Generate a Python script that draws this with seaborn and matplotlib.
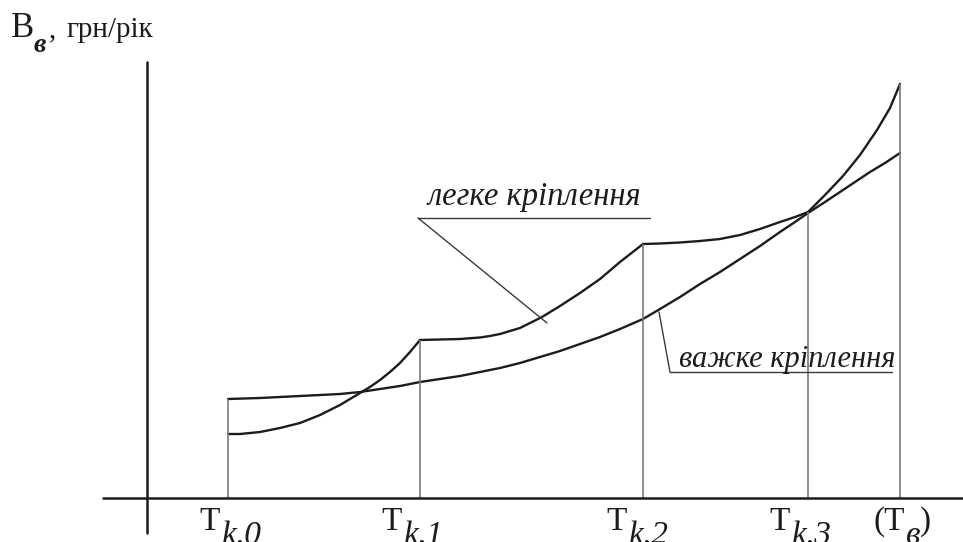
import numpy as np
import pandas as pd
import matplotlib
matplotlib.use("Agg")
import matplotlib.pyplot as plt
import seaborn as sns

# ------------------------------------------------------------
# Données lues sur le schéma (origine = croisement des axes)
# ------------------------------------------------------------

t_names = ["k,0", "k,1", "k,2", "k,3", "в"]
t_pos = [81, 273, 496, 661, 753]

# легке кріплення : trois tronçons entre les remplacements
light1_x = [81, 93, 113, 133, 153, 173, 193, 203, 213, 223, 233, 243, 253, 263, 273]
light1_y = [64, 64, 66, 70, 75, 83, 93, 99, 105, 111, 118, 126, 135, 146, 158]

light2_x = [273, 293, 313, 333, 343, 353, 363, 373, 383, 395, 413, 433, 453, 473, 496]
light2_y = [158, 158.5, 159, 160.5, 162, 164, 167, 170, 175, 181, 192, 205, 219, 236, 254]

light3_x = [496, 513, 533, 553, 573, 593, 613, 633, 648, 661, 678, 696, 713, 730, 743, 753]
light3_y = [254, 254.5, 255.5, 257, 259, 263, 269, 276, 281, 286, 303, 322, 343, 368, 390, 414]

# важке кріплення
heavy_x = [81, 113, 153, 193, 213, 233, 253, 273, 293, 313, 333, 353, 373, 393, 413, 433, 453,
           473, 496, 513, 533, 553, 573, 593, 613, 633, 648, 661, 678, 693, 708, 723, 738, 753]
heavy_y = [99, 100, 102, 104, 106, 109, 112, 116, 119, 122, 126, 130, 135, 141, 147, 154, 161,
           169, 179, 189, 201, 214, 226, 239, 252, 266, 276, 285, 296, 306, 316, 326, 335, 345]

# hauteur des verticales à chaque T
drop_y = [99, 158, 254, 286, 414]

label_light = "легке кріплення"
label_heavy = "важке кріплення"

# ------------------------------------------------------------
# Figure
# ------------------------------------------------------------

sns.set_style("white")
plt.rcParams["font.family"] = ["Liberation Serif", "DejaVu Serif"]

fig = plt.figure(figsize=(9.63, 5.42), dpi=100)
ax = fig.add_axes([0, 0, 1, 1])
ax.set_xlim(-147, 816)
ax.set_ylim(-44, 498)
ax.axis("off")

ink = "#1c1c1c"
curve_kw = dict(color=ink, linewidth=1.7, sort=False, estimator=None, ax=ax)
for xs, ys in [(light1_x, light1_y), (light2_x, light2_y),
               (light3_x, light3_y), (heavy_x, heavy_y)]:
    seg = pd.DataFrame({"x": xs, "y": ys})
    sns.lineplot(data=seg, x="x", y="y", **curve_kw)

# verticales
ax.vlines(t_pos, 0, drop_y, color="#7a7a7a", linewidth=1.2)

# axes
ax.plot([0, 0], [-35, 436], color=ink, linewidth=1.8)
ax.plot([-44, 816], [0, 0], color=ink, linewidth=1.8)

# légendes avec traits de rappel
ax.plot([271, 503], [280, 280], color="#3a3a3a", linewidth=1.0)
ax.plot([271, 400], [280, 175], color="#3a3a3a", linewidth=1.0)
ax.text(387, 293, label_light, fontsize=23.5, style="italic",
        ha="center", va="baseline", color=ink)

ax.plot([523, 745], [126, 126], color="#3a3a3a", linewidth=1.0)
ax.plot([523, 512], [126, 186], color="#3a3a3a", linewidth=1.0)
ax.text(640, 131, label_heavy, fontsize=22, style="italic",
        ha="center", va="baseline", color=ink)

# titre de l'axe Y
ax.text(-136, 461, "B", fontsize=25, ha="left", va="baseline", color=ink)
ax.text(-113, 446, "в", fontsize=20, style="italic", weight="bold",
        ha="left", va="baseline", color=ink)
ax.text(-98, 461, ",", fontsize=21, ha="left", va="baseline", color=ink)
ax.text(-80, 461, "грн/рік", fontsize=21, ha="left", va="baseline", color=ink)

# étiquettes de l'axe X
label_dx = [-8, -18, -16, -18, 5]
for name, x, dx in zip(t_names, t_pos, label_dx):
    main = "(T" if name == "в" else "T"
    ax.text(x + dx, -32, main, fontsize=24, ha="right", va="baseline", color=ink)
    ax.text(x + dx + 1, -46, name, fontsize=24, style="italic",
            ha="left", va="baseline", color=ink)
    if name == "в":
        ax.text(x + dx + 15, -32, ")", fontsize=24, ha="left", va="baseline", color=ink)

plt.savefig("out.png", dpi=100)
